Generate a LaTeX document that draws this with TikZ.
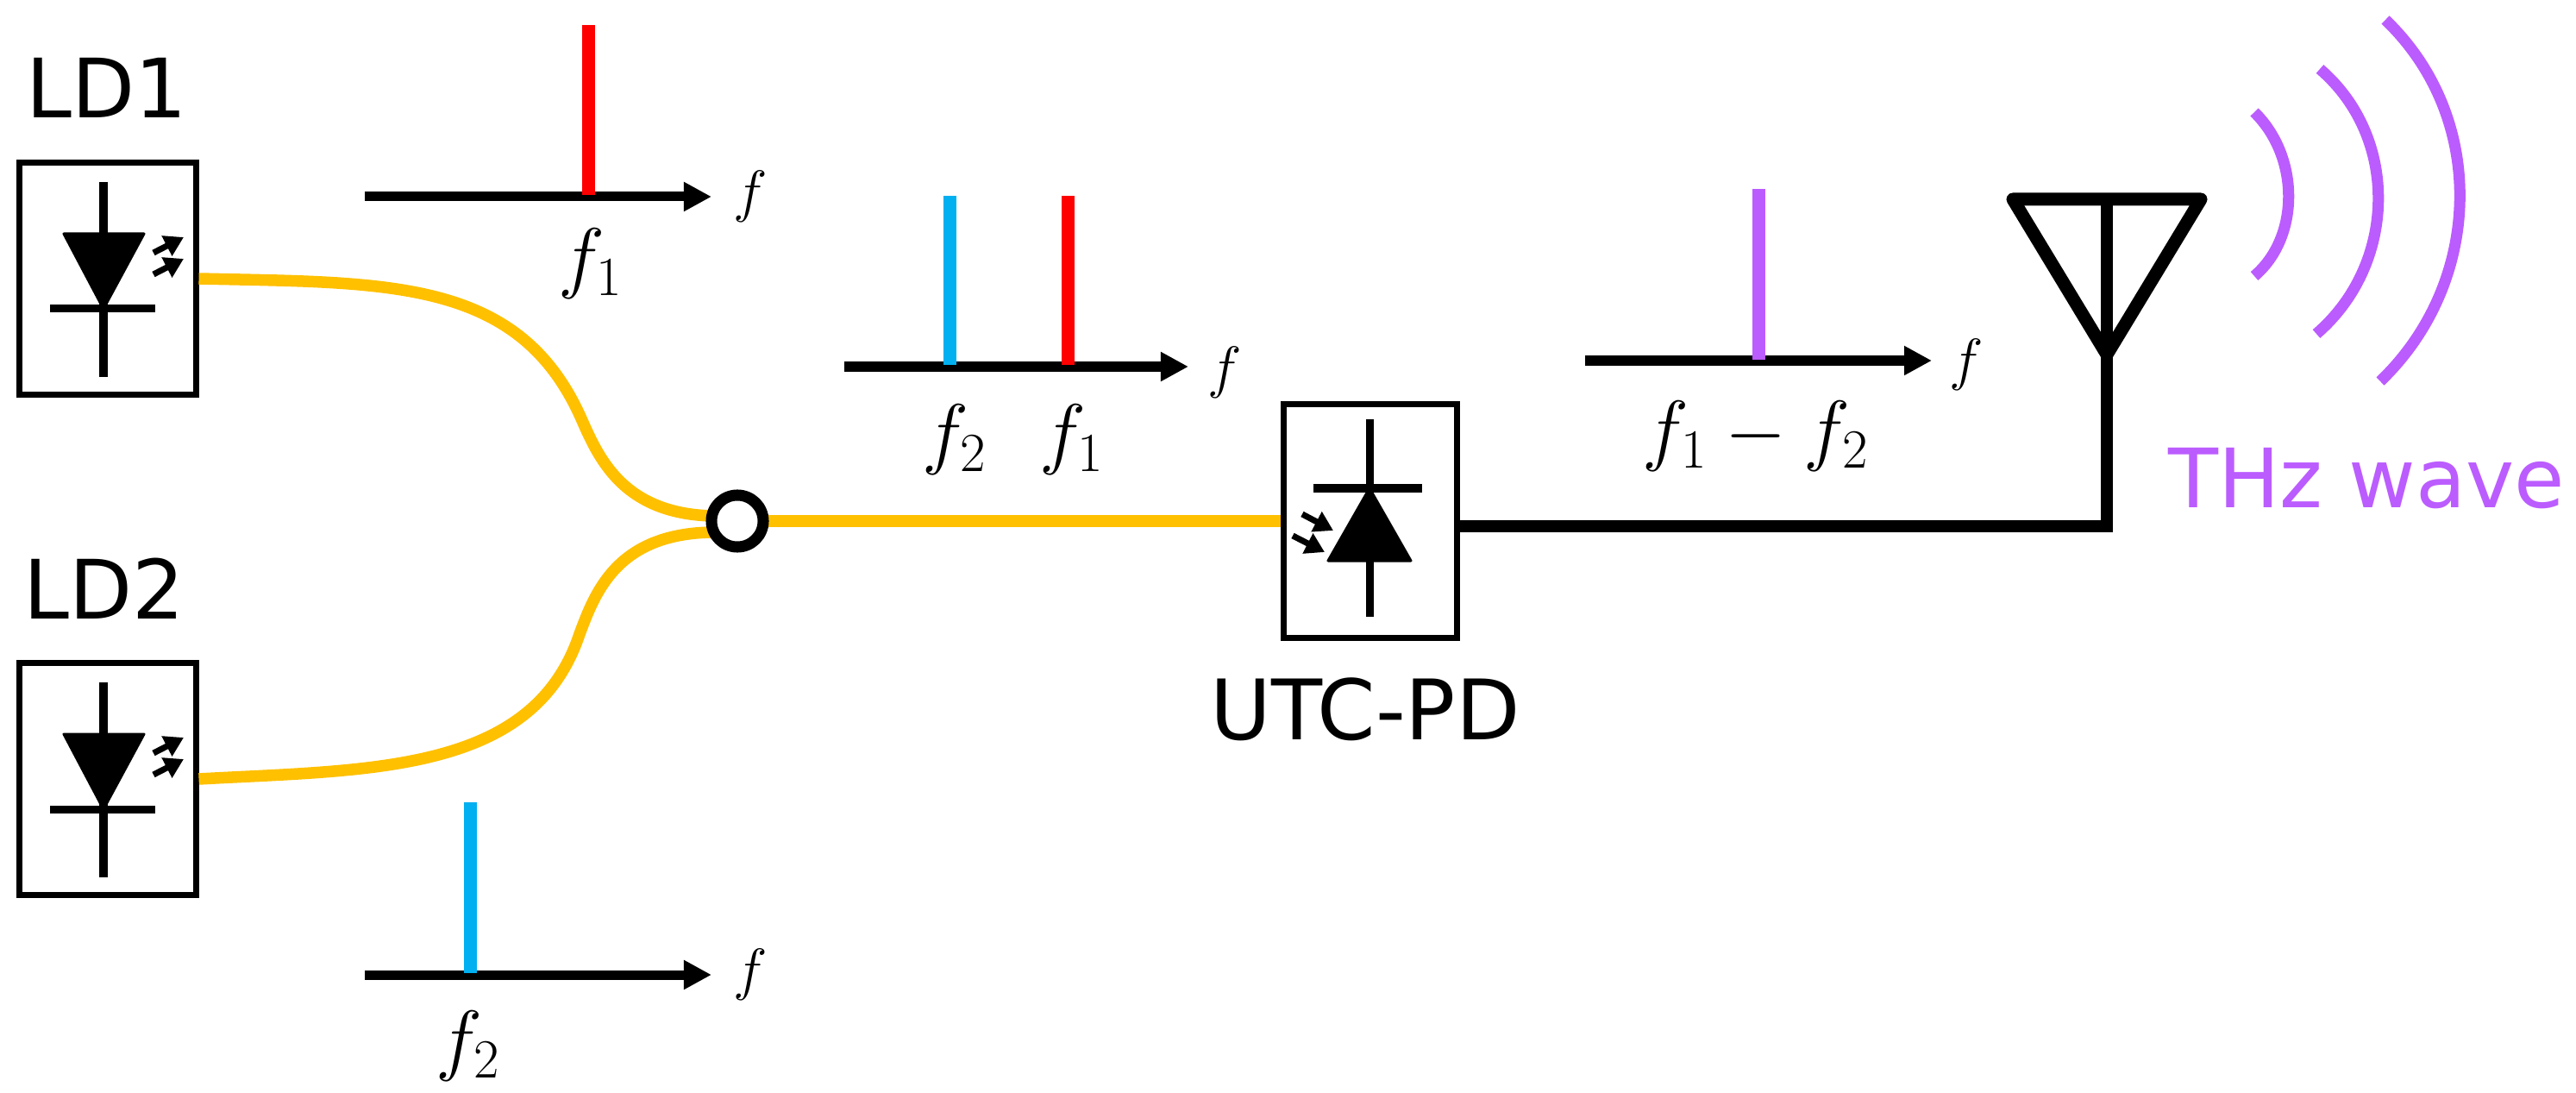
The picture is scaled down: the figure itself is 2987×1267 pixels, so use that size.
\documentclass[tikz,border=0pt]{standalone}
\usepackage{fix-cm}
\usepackage{fontspec}
\setmainfont{DejaVu Sans}
\usetikzlibrary{arrows.meta, positioning}

\definecolor{fiberyellow}{HTML}{FFC000}
\definecolor{lineblue}{HTML}{00B0F0}
\definecolor{thzpurple}{HTML}{BB5CFF}

\tikzset{
    devbox/.style={draw, fill=white, line width=0.07cm, minimum width=2.04cm, minimum height=2.68cm, inner sep=0pt},
    wire/.style={line width=0.09cm},
    lightarrow/.style={line width=0.07cm, -{Triangle[length=0.22cm,width=0.25cm]}},
    fiber/.style={fiberyellow, line width=0.135cm},
    axisline/.style={line width=0.11cm, -{Triangle[length=0.32cm,width=0.32cm]}},
    specline/.style={line width=0.15cm},
    wavearc/.style={thzpurple, line width=0.13cm},
    bigtext/.style={font=\fontsize{27}{32}\selectfont, anchor=base, inner sep=0pt},
    freqlabel/.style={font=\fontsize{26}{30}\selectfont, inner sep=0pt},
    axislabel/.style={font=\fontsize{19}{22}\selectfont, inner sep=0pt}
}

\begin{document}
\begin{tikzpicture}[x=0.01cm, y=-0.01cm]
    \useasboundingbox (0,0) rectangle (2987,1267);

    % Laser diode boxes
    \node[devbox] (ld1) at (125,323) {};
    \node[bigtext] (ld1label) at (124,137) {LD1};
    \node[devbox] (ld2) at (125,903) {};
    \node[bigtext] (ld2label) at (121,717) {LD2};

    % Diode in LD1
    \draw[wire] (120,211) -- (120,437);
    \draw[wire] (58,358) -- (180,358);
    \draw[fill, line join=round, line width=0.03cm] (74,271) -- (167,271) -- (120,358) -- cycle;
    \draw[lightarrow] (178,293) -- (213,275);
    \draw[lightarrow] (178,318) -- (213,300);

    % Diode in LD2
    \draw[wire] (120,791) -- (120,1017);
    \draw[wire] (58,938) -- (180,938);
    \draw[fill, line join=round, line width=0.03cm] (74,851) -- (167,851) -- (120,938) -- cycle;
    \draw[lightarrow] (178,873) -- (213,855);
    \draw[lightarrow] (178,898) -- (213,880);

    % Fibers and coupler
    \node[circle, minimum size=0.6cm, inner sep=0pt] (coupler) at (855,604) {};
    \coordinate (upin) at (825,598);
    \coordinate (lowin) at (825,617);
    \draw[fiber] (ld1.east) .. controls (450,328) and (600,322) .. (673,483)
        .. controls (693,528) and (720,595) .. (upin);
    \draw[fiber] (ld2.east) .. controls (430,892) and (618,897) .. (672,735)
        .. controls (690,687) and (715,619) .. (lowin);
    \node[devbox, minimum width=2.0cm, minimum height=2.71cm] (pd) at (1589,604) {};
    \draw[fiber] (coupler.center) -- (pd.west);
    \node[circle, draw, fill=white, line width=0.13cm, minimum size=0.6cm, inner sep=0pt] at (coupler) {};

    % Photodiode
    \node[bigtext, font=\fontsize{27.5}{32}\selectfont] (pdlabel) at (1583,857) {UTC-PD};
    \draw[wire] (1588,486) -- (1588,715);
    \draw[wire] (1523,566) -- (1649,566);
    \draw[fill, line join=round, line width=0.03cm] (1540,650) -- (1636,650) -- (1588,566) -- cycle;
    \draw[lightarrow] (1510,596) -- (1546,615);
    \draw[lightarrow] (1499,621) -- (1536,640);

    % Output line and antenna
    \coordinate (feed) at (2443,610);
    \coordinate (antt) at (2443,231);
    \coordinate (antl) at (2334,231);
    \coordinate (antr) at (2552,231);
    \coordinate (antb) at (2443,411);
    \draw[line width=0.14cm] (pd.east |- feed) -- (feed) -- (antt);
    \draw[line width=0.15cm, line join=round] (antl) -- (antr) -- (antb) -- cycle;

    % THz wave
    \draw[wavearc] (2614,130) .. controls (2667,182) and (2667,275) .. (2614,320);
    \draw[wavearc] (2690,80) .. controls (2783,160) and (2779,307) .. (2686,387);
    \draw[wavearc] (2766,23) .. controls (2885,137) and (2879,328) .. (2760,442);
    \node[bigtext, text=thzpurple] (thzlabel) at (2744,589) {THz wave};

    % Spectrum of LD1
    \draw[axisline] (423,228) -- (825,228);
    \draw[specline, red] (682,29) -- (682,226);
    \node[freqlabel] (f1a) at (685,306) {$f_1$};
    \node[axislabel] (fa) at (870,228) {$f$};

    % Spectrum of LD2
    \draw[axisline] (423,1130) -- (825,1130);
    \draw[specline, lineblue] (545,930) -- (545,1128);
    \node[freqlabel] (f2a) at (543,1213) {$f_2$};
    \node[axislabel] (fb) at (870,1130) {$f$};

    % Spectrum after coupler
    \draw[axisline] (979,425) -- (1378,425);
    \draw[specline, lineblue] (1101,227) -- (1101,423);
    \draw[specline, red] (1238,227) -- (1238,423);
    \node[freqlabel] (f2b) at (1107,510) {$f_2$};
    \node[freqlabel] (f1b) at (1243,510) {$f_1$};
    \node[axislabel] (fc) at (1420,432) {$f$};

    % Spectrum after photodiode
    \draw[axisline] (1838,418) -- (2240,418);
    \draw[specline, thzpurple] (2039,219) -- (2039,417);
    \node[freqlabel] (fdiff) at (2036,506) {$f_1-f_2$};
    \node[axislabel] (fd) at (2280,423) {$f$};
\end{tikzpicture}
\end{document}
